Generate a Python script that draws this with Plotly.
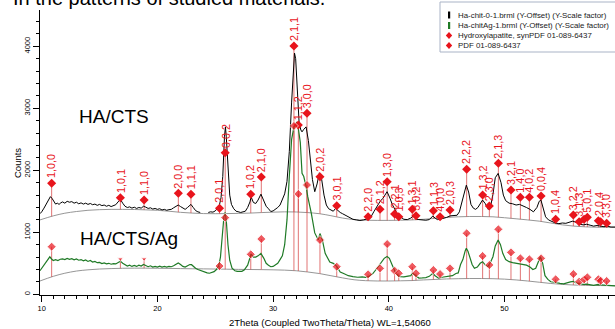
import plotly.graph_objects as go
import numpy as np

# ---------------- data ----------------
two_theta_black = [9.85, 10.0, 10.2, 10.4, 10.6, 10.75, 10.9, 11.05, 11.2, 11.35, 11.5, 11.65, 11.8, 12.0, 12.2, 12.4,
                   12.6, 12.8, 13.0, 13.2, 13.4, 13.6, 13.8, 14.0, 14.2, 14.4, 14.6, 14.8, 15.0, 15.2, 15.4, 15.6,
                   15.8, 16.0, 16.2, 16.4, 16.6, 16.8, 17.0, 17.2, 17.4, 17.6, 17.8, 18.0, 18.2, 18.4, 18.6, 18.8,
                   19.0, 19.2, 19.4, 19.6, 19.8, 20.0, 20.2, 20.4, 20.6, 20.8, 21.0, 21.2, 21.4, 21.6, 21.8, 22.0,
                   22.2, 22.4, 22.6, 22.8, 22.9, 23.1, 23.3, 23.5, 23.7, 24.0, 24.4, 24.6, 24.8, 25.0, 25.2, 25.35,
                   25.5, 25.65, 25.8, 25.88, 25.95, 26.1, 26.25, 26.4, 26.6, 26.8, 27.0, 27.2, 27.4, 27.6, 27.8,
                   28.0, 28.1, 28.3, 28.5, 28.7, 28.95, 29.2, 29.4, 29.6, 29.8, 30.0, 30.2, 30.4, 30.6, 30.8, 31.0,
                   31.2, 31.4, 31.6, 31.75, 31.85, 31.95, 32.05, 32.15, 32.25, 32.4, 32.5, 32.65, 32.85, 33.05,
                   33.2, 33.4, 33.6, 33.8, 34.0, 34.2, 34.4, 34.6, 34.8, 35.0, 35.2, 35.4, 35.6, 35.8, 36.0, 36.3,
                   36.6, 36.9, 37.2, 37.5, 37.8, 38.1, 38.4, 38.7, 39.0, 39.25, 39.5, 39.85, 40.1, 40.3, 40.55,
                   40.8, 41.0, 41.3, 41.6, 41.9, 42.1, 42.35, 42.6, 42.9, 43.2, 43.5, 43.8, 44.0, 44.2, 44.5, 44.8,
                   45.0, 45.3, 45.6, 45.9, 46.1, 46.3, 46.5, 46.7, 46.9, 47.1, 47.3, 47.5, 47.7, 47.9, 48.1, 48.35,
                   48.6, 48.8, 49.0, 49.2, 49.45, 49.7, 49.9, 50.1, 50.4, 50.7, 51.0, 51.3, 51.6, 51.9, 52.2, 52.5,
                   52.8, 53.0, 53.15, 53.35, 53.55, 53.8, 54.1, 54.4, 54.7, 55.0, 55.3, 55.6, 55.9, 56.2, 56.5,
                   56.8, 57.1, 57.4, 57.7, 58.0, 58.3, 58.6, 58.9, 59.2, 59.55]
counts_black = [1300, 1330, 1390, 1460, 1540, 1575, 1545, 1490, 1455, 1470, 1450, 1475, 1490, 1470, 1500, 1485,
                1495, 1470, 1485, 1460, 1475, 1455, 1470, 1450, 1465, 1445, 1455, 1435, 1450, 1430, 1440, 1420,
                1435, 1415, 1430, 1445, 1490, 1530, 1470, 1420, 1400, 1410, 1390, 1405, 1385, 1400, 1390, 1420,
                1405, 1385, 1395, 1375, 1385, 1370, 1380, 1360, 1370, 1355, 1365, 1370, 1395, 1420, 1440, 1415,
                1385, 1370, 1400, 1440, 1450, 1400, 1350, 1330, 1320, None, 1320, 1330, 1325, 1345, 1390, 1430,
                1560, 1900, 2550, 2700, 2550, 1950, 1600, 1450, 1380, 1340, 1330, 1320, 1330, 1340, 1400,
                1490, 1570, 1480, 1465, 1520, 1615, 1520, 1420, 1380, 1335, 1345, 1370, 1400, 1440, 1520, 1620,
                1820, 2300, 3100, 3700, 3890, 3800, 3450, 2950, 2760, 2650, 2620, 2660, 2700, 2480,
                2150, 1850, 1655, 1780, 1960, 1850, 1600, 1440, 1380, 1355, 1340, 1385, 1345, 1320, 1300, 1270,
                1230, 1210, 1200, 1190, 1200, 1210, 1230, 1330, 1420, 1500, 1550, 1655, 1550, 1450, 1360,
                1270, 1250, 1210, 1205, 1230, 1262, 1215, 1205, 1200, 1195, 1205, 1262, 1230, 1205, 1215, 1225,
                1240, 1265, 1270, 1275, 1330, 1470, 1650, 1760, 1650, 1450, 1390, 1370, 1400, 1470, 1520, 1460,
                1370, 1420, 1610, 1880, 1950, 1800, 1600, 1510, 1470, 1460, 1440, 1450, 1430, 1400, 1370, 1330,
                1400, 1500, 1520, 1380, 1250, 1200, 1170, 1150, 1140, 1150, 1145, 1165, 1180, 1160, 1130,
                1120, 1130, 1115, 1100, 1110, 1095, 1090, 1100, 1085, 1085]

two_theta_green = [9.85, 10.0, 10.2, 10.4, 10.6, 10.7, 10.85, 11.0, 11.2, 11.4, 11.6, 11.8, 12.0, 12.2, 12.4, 12.6,
                   12.8, 13.0, 13.2, 13.4, 13.6, 13.8, 14.0, 14.2, 14.4, 14.6, 14.8, 15.0, 15.2, 15.4, 15.6, 15.8,
                   16.0, 16.2, 16.4, 16.6, 16.8, 17.0, 17.2, 17.4, 17.6, 17.8, 18.0, 18.2, 18.4, 18.6, 18.8, 19.0,
                   19.2, 19.4, 19.6, 19.8, 20.0, 20.2, 20.4, 20.6, 20.8, 21.0, 21.2, 21.4, 21.6, 21.8, 22.0, 22.2,
                   22.4, 22.6, 22.8, 22.95, 23.1, 23.3, 23.5, 23.7, 23.9, 24.1, 24.3, 24.5, 24.7, 24.9, 25.1, 25.3,
                   25.45, 25.6, 25.75, 25.85, 25.95, 26.1, 26.25, 26.45, 26.7, 26.9, 27.1, 27.3, 27.5, 27.8, 28.0,
                   28.1, 28.3, 28.5, 28.7, 28.95, 29.2, 29.4, 29.6, 29.8, 30.0, 30.2, 30.4, 30.6, 30.8, 31.0, 31.2,
                   31.4, 31.6, 31.8, 32.05, 32.2, 32.35, 32.5, 32.65, 32.85, 33.0, 33.3, 33.6, 33.9, 34.05, 34.25,
                   34.5, 34.9, 35.2, 35.5, 35.8, 36.1, 36.5, 36.9, 37.3, 37.7, 38.0, 38.3, 38.6, 38.9, 39.1, 39.35,
                   39.6, 39.85, 40.05, 40.3, 40.55, 40.8, 41.0, 41.3, 41.6, 41.9, 42.05, 42.3, 42.6, 42.9, 43.2,
                   43.5, 43.8, 44.0, 44.3, 44.6, 44.9, 45.2, 45.5, 45.8, 46.0, 46.2, 46.4, 46.6, 46.7, 46.85, 47.0,
                   47.2, 47.4, 47.65, 47.9, 48.1, 48.35, 48.55, 48.8, 49.0, 49.2, 49.45, 49.65, 49.85, 50.1, 50.4,
                   50.7, 51.0, 51.3, 51.6, 51.9, 52.2, 52.45, 52.7, 52.9, 53.1, 53.3, 53.5, 53.75, 54.0, 54.3, 54.6,
                   54.8, 55.1, 55.4, 55.7, 55.95, 56.2, 56.5, 56.8, 57.1, 57.4, 57.7, 58.0, 58.3, 58.6, 58.9, 59.2,
                   59.55]
counts_green = [380, 420, 480, 540, 590, 605, 570, 545, 560, 545, 565, 570, 560, 580, 565, 575,
                555, 570, 550, 560, 540, 555, 530, 545, 520, 530, 510, 515, 495, 505, 490, 500,
                485, 495, 490, 515, 535, 500, 470, 455, 470, 450, 465, 450, 470, 455, 480, 460,
                445, 460, 440, 450, 440, 455, 440, 450, 440, 450, 445, 460, 490, 505, 480, 450,
                440, 460, 480, 478, 450, 420, 400, 385, 370, 355, 345, 340, 355, 365, 400, 460,
                600, 900, 1250, 1320, 1200, 800, 550, 420, 380, 370, 375, 370, 390, 470, 590,
                650, 600, 600, 620, 660, 580, 500, 470, 445, 450, 470, 500, 560, 620, 800, 1200,
                1900, 2500, 2700, 2780, 2650, 2450, 1950, 1900, 1740, 1570, 1310, 990, 880, 980, 880,
                660, 520, 500, 450, 360, 335, 300, 285, 275, 280, 275, 290, 330, 400, 450, 520,
                580, 610, 580, 470, 365, 300, 285, 280, 285, 300, 340, 300, 262, 265, 270,
                290, 340, 300, 262, 275, 285, 285, 300, 335, 345, 480, 560, 700, 742, 690, 606,
                480, 420, 440, 500, 526, 470, 445, 520, 606, 780, 876, 800, 661, 560, 526,
                510, 500, 495, 475, 470, 440, 400, 420, 500, 606, 500, 300, 240, 203, 195, 180,
                177, 170, 190, 200, 210, 185, 170, 160, 165, 150, 145, 155, 150, 140, 145, 140,
                135]

bg_theta = [9.85, 11, 12, 13, 14, 15, 16, 17, 18, 19, 20, 21, 22, 23, 24, 25, 26, 27, 28, 29, 30, 31, 32, 33, 34,
            35, 36, 37, 38, 39, 40, 41, 42, 43, 44, 45, 46, 47, 48, 49, 50, 51, 52, 53, 54, 55, 56, 57, 58, 59,
            59.55]
bg_black = [1200, 1265, 1308, 1335, 1355, 1365, 1370, 1370, 1368, 1362, 1355, 1340, 1322, 1310, 1302, 1300, 1302,
            1305, 1310, 1318, 1325, 1330, 1328, 1318, 1300, 1268, 1230, 1205, 1195, 1192, 1192, 1195, 1200, 1210,
            1225, 1240, 1250, 1255, 1255, 1250, 1235, 1218, 1200, 1180, 1150, 1120, 1100, 1088, 1082, 1080, 1080]
bg_green = [215, 290, 340, 375, 395, 408, 415, 420, 422, 422, 420, 418, 415, 412, 410, 408, 405, 402, 400, 398, 395,
            390, 380, 360, 335, 300, 265, 235, 220, 215, 215, 218, 222, 232, 240, 248, 252, 255, 255, 252, 245,
            232, 215, 195, 175, 160, 150, 145, 142, 140, 140]

ref_theta = [10.86, 16.80, 18.85, 21.81, 22.90, 25.37, 25.86, 28.07, 28.98, 31.80, 32.18, 32.93, 34.05, 35.50,
             38.21, 39.24, 39.86, 40.50, 40.86, 42.03, 42.35, 43.85, 44.43, 45.29, 46.73, 48.11, 48.69, 49.47,
             50.56, 51.37, 52.15, 53.16, 54.42, 55.95, 56.45, 56.88, 57.16, 58.11, 58.31, 58.83]
ref_hkl = ["1,0,0", "1,0,1", "1,1,0", "2,0,0", "1,1,1", "2,0,1", "0,0,2", "1,0,2", "2,1,0", "2,1,1", "1,1,2",
           "3,0,0", "2,0,2", "3,0,1", "2,2,0", "2,1,2", "1,3,0", "2,2,1", "1,0,3", "1,3,1", "3,0,2", "1,1,3",
           "4,0,0", "2,0,3", "2,2,2", "1,3,2", "2,3,0", "2,1,3", "3,2,1", "1,4,0", "4,0,2", "0,0,4", "1,0,4",
           "3,2,2", "3,1,3", "", "5,0,1", "2,0,4", "", "3,3,0"]
ref_black = [1790, 1558, 1521, 1629, 1613, 1387, 2284, 1613, 1892, 4005, 2731, 2920, 1897, 1429,
             1252, 1371, 1816, 1295, 1252, 1371, 1268, 1348, 1252, 1360, 2016, 1602, 1424, 2113,
             1682, 1565, 1565, 1586, 1210, 1279, 1171, 1210, 1242, 1187, 1171, 1145]
ref_green = [768, 569, 569, None, None, 456, 1236, 645, 892, 2715, 1618, 1763, 876, 445,
             323, 419, 811, 381, 339, 445, 339, 392, 327, 419, 984, 618, 473, 1048,
             677, 581, 565, 581, 242, 327, 203, 242, 274, 242, 219, 215]

legend_labels = ["Ha-chit-0-1.brml (Y-Offset) (Y-Scale factor)",
                 "Ha-chitAg-1.brml (Y-Offset) (Y-Scale factor)",
                 "Hydroxylapatite, synPDF 01-089-6437",
                 "PDF 01-089-6437"]
sample_labels = ["HA/CTS", "HA/CTS/Ag"]

# ---------------- styling ----------------
RED = "#e8141c"
STICK = "rgba(215,70,70,0.75)"
GREEN = "#1f7a26"
GREY = "#8a8a8a"
FONT = "Liberation Sans, Arial, sans-serif"

W, H = 615, 329
ML, MR, MT, MB = 40, 0, 10, 34
PW, PH = W - ML - MR, H - MT - MB


def px2x(px):
    return (px - ML) / PW


def py2y(py):
    return (H - MB - py) / PH


fig = go.Figure()

# background curves
fig.add_trace(go.Scatter(x=bg_theta, y=bg_black, mode="lines", line=dict(color=GREY, width=0.9, shape="spline"),
                         hoverinfo="skip", showlegend=False))
fig.add_trace(go.Scatter(x=bg_theta, y=bg_green, mode="lines", line=dict(color=GREY, width=0.9, shape="spline"),
                         hoverinfo="skip", showlegend=False))

# reference sticks
bgb = np.interp(ref_theta, bg_theta, bg_black)
bgg = np.interp(ref_theta, bg_theta, bg_green)
sx, sy = [], []
for t, yb, b in zip(ref_theta, ref_black, bgb):
    sx += [t, t, None]
    sy += [b, yb, None]
for t, yg, b in zip(ref_theta, ref_green, bgg):
    if yg is None:
        continue
    sx += [t, t, None]
    sy += [b, yg, None]
fig.add_trace(go.Scatter(x=sx, y=sy, mode="lines", line=dict(color=STICK, width=1), hoverinfo="skip",
                         showlegend=False))

# scans
fig.add_trace(go.Scatter(x=two_theta_black, y=counts_black, mode="lines", line=dict(color="black", width=1),
                         connectgaps=False, showlegend=False))
fig.add_trace(go.Scatter(x=two_theta_green, y=counts_green, mode="lines", line=dict(color=GREEN, width=1.2),
                         showlegend=False))

# markers
fig.add_trace(go.Scatter(x=ref_theta, y=ref_black, mode="markers",
                         marker=dict(symbol="diamond", size=7, color=RED), showlegend=False))
g_sym = ["triangle-down" if h in ("1,0,1", "1,1,0") else "diamond" for h in ref_hkl]
g_size = [5 if s == "triangle-down" else 7 for s in g_sym]
fig.add_trace(go.Scatter(x=ref_theta, y=ref_green, mode="markers",
                         marker=dict(symbol=g_sym, size=g_size, color=RED), showlegend=False))

annotations = []
for t, yb, h in zip(ref_theta, ref_black, ref_hkl):
    if not h:
        continue
    annotations.append(dict(x=t, y=yb, xref="x", yref="y", text=h, textangle=-90, showarrow=False,
                            xanchor="center", yanchor="bottom", yshift=3,
                            font=dict(color=RED, size=10.8, family=FONT)))

# sample names
annotations.append(dict(x=px2x(114), y=py2y(117), xref="paper", yref="paper", text=sample_labels[0],
                        xanchor="center", yanchor="middle",
                        showarrow=False, font=dict(size=19, color="black", family=FONT)))
annotations.append(dict(x=px2x(129), y=py2y(238), xref="paper", yref="paper", text=sample_labels[1],
                        xanchor="center", yanchor="middle",
                        showarrow=False, font=dict(size=19, color="black", family=FONT)))

# cut-off heading
annotations.append(dict(x=px2x(11), y=py2y(11), xref="paper", yref="paper", xanchor="left", yanchor="bottom",
                        text="In the patterns of studied materials.", showarrow=False,
                        font=dict(size=20, color="black", family=FONT)))

# axis titles
annotations.append(dict(x=px2x(330), y=py2y(322), xref="paper", yref="paper", xanchor="center", yanchor="middle",
                        text="2Theta (Coupled TwoTheta/Theta) WL=1,54060", showarrow=False,
                        font=dict(size=9.5, color="black", family=FONT)))
annotations.append(dict(x=px2x(17), y=py2y(163), xref="paper", yref="paper", xanchor="center", yanchor="middle",
                        text="Counts", textangle=-90,
                        showarrow=False, font=dict(size=9.5, color="black", family=FONT)))

# legend box
shapes = [dict(type="rect", xref="paper", yref="paper", x0=px2x(440), x1=px2x(640), y0=py2y(52), y1=py2y(2),
               line=dict(color="#a9b3c6", width=1), fillcolor="white", layer="above")]
row_y = [15, 25.5, 35.5, 45.5]
bar_cols = ["black", GREEN]
for i, c in enumerate(bar_cols):
    shapes.append(dict(type="rect", xref="paper", yref="paper", x0=px2x(448), x1=px2x(450.2),
                       y0=py2y(row_y[i] + 3.5), y1=py2y(row_y[i] - 3.5), line=dict(width=0), fillcolor=c,
                       layer="above"))
for i in (2, 3):
    cx, cy = 449, row_y[i]
    path = "M {} {} L {} {} L {} {} L {} {} Z".format(px2x(cx - 3.2), py2y(cy), px2x(cx), py2y(cy - 3.6),
                                                      px2x(cx + 3.2), py2y(cy), px2x(cx), py2y(cy + 3.6))
    shapes.append(dict(type="path", xref="paper", yref="paper", path=path, fillcolor=RED, line=dict(width=0),
                       layer="above"))
for i, lab in enumerate(legend_labels):
    annotations.append(dict(x=px2x(456), y=py2y(row_y[i]), xref="paper", yref="paper", xanchor="left",
                            yanchor="middle", text=lab, showarrow=False,
                            font=dict(size=7.9, color="#1a1a1a", family=FONT)))

fig.update_layout(
    width=W, height=H, margin=dict(l=ML, r=MR, t=MT, b=MB, pad=0, autoexpand=False),
    paper_bgcolor="white", plot_bgcolor="white",
    font=dict(family=FONT, color="black"),
    showlegend=False, hovermode=False,
    annotations=annotations, shapes=shapes,
    xaxis=dict(range=[9.853, 59.55], showgrid=False, zeroline=False, showline=True, linecolor="black",
               linewidth=1, ticks="outside", ticklen=6, tickcolor="black", tickvals=[10, 20, 30, 40, 50, 60],
               tickfont=dict(size=7.5, color="black"), automargin=False,
               minor=dict(dtick=1, tick0=10, ticks="outside", ticklen=3, tickcolor="black")),
    yaxis=dict(range=[-11, 4585], showgrid=False, zeroline=False, showline=True, linecolor="black",
               linewidth=1, ticks="outside", ticklen=6, tickcolor="black", dtick=1000, tick0=0,
               tickangle=-90, tickfont=dict(size=7.5, color="black"), automargin=False,
               minor=dict(dtick=200, tick0=0, ticks="outside", ticklen=3, tickcolor="black")),
)

fig.write_html("out.html", config={"displayModeBar": False, "staticPlot": True},
               post_script="document.body.style.margin='0';document.body.style.padding='0';")
